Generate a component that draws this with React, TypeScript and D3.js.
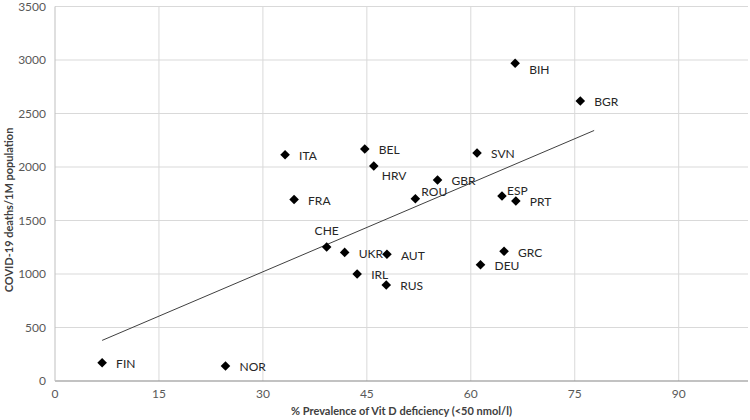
import React, { useEffect, useRef } from 'react';
import * as d3 from 'd3';

// Country codes, Vit D deficiency prevalence (%) and COVID-19 deaths per 1M
const countries = ['FIN', 'NOR', 'ITA', 'FRA', 'CHE', 'UKR', 'IRL', 'BEL', 'HRV', 'RUS', 'AUT', 'ROU', 'GBR', 'SVN', 'DEU', 'ESP', 'GRC', 'BIH', 'PRT', 'BGR'];
const vitDPrevalence = [6.8, 24.6, 33.2, 34.5, 39.2, 41.8, 43.6, 44.7, 46.0, 47.8, 47.9, 52.0, 55.2, 60.9, 61.4, 64.5, 64.8, 66.4, 66.5, 75.8];
const deathsPerMillion = [171, 140, 2115, 1697, 1252, 1202, 1000, 2168, 2009, 897, 1184, 1704, 1879, 2131, 1087, 1729, 1212, 2969, 1682, 2617];

const xTicks = [0, 15, 30, 45, 60, 75, 90];
const yTicks = [0, 500, 1000, 1500, 2000, 2500, 3000, 3500];

// label placement tweaks (px), default is to the right of the marker
const labelNudge: Record<string, { dx: number; dy: number; anchor?: string }> = {
  CHE: { dx: 0, dy: -16, anchor: 'middle' },
  ROU: { dx: 6, dy: -7 },
  ESP: { dx: 5, dy: -5 },
  HRV: { dx: 8, dy: 10 },
  BIH: { dx: 14, dy: 6 },
};

const App: React.FC = () => {
  const svgRef = useRef<SVGSVGElement>(null);

  useEffect(() => {
    if (!svgRef.current) return;
    document.body.style.margin = '0';

    const svg = d3.select(svgRef.current);
    svg.selectAll('*').remove();

    const width = 750;
    const height = 420;
    const m = { top: 6.5, right: 2, bottom: 39, left: 55 };

    const x = d3.scaleLinear().domain([0, 100]).range([m.left, width - m.right]);
    const y = d3.scaleLinear().domain([0, 3500]).range([height - m.bottom, m.top]);

    const font = 'Lato, "Open Sans", sans-serif';

    // gridlines
    svg.append('g')
      .selectAll('line')
      .data(yTicks.slice(1))
      .join('line')
      .attr('x1', m.left).attr('x2', width - m.right)
      .attr('y1', d => y(d)).attr('y2', d => y(d))
      .attr('stroke', '#d9d9d9').attr('stroke-width', 1);

    svg.append('g')
      .selectAll('line')
      .data(xTicks.slice(1))
      .join('line')
      .attr('x1', d => x(d)).attr('x2', d => x(d))
      .attr('y1', m.top).attr('y2', height - m.bottom)
      .attr('stroke', '#d9d9d9').attr('stroke-width', 1);

    // axis lines
    svg.append('line')
      .attr('x1', m.left).attr('x2', width - m.right)
      .attr('y1', y(0)).attr('y2', y(0))
      .attr('stroke', '#868686').attr('stroke-width', 1.2);
    svg.append('line')
      .attr('x1', m.left).attr('x2', m.left)
      .attr('y1', m.top).attr('y2', y(0))
      .attr('stroke', '#bfbfbf').attr('stroke-width', 1);

    // tick labels
    svg.append('g')
      .selectAll('text')
      .data(yTicks)
      .join('text')
      .attr('x', m.left - 9)
      .attr('y', d => y(d))
      .attr('dy', '0.35em')
      .attr('text-anchor', 'end')
      .attr('font-family', font)
      .attr('font-size', 12)
      .attr('fill', '#595959')
      .text(d => d);

    svg.append('g')
      .selectAll('text')
      .data(xTicks)
      .join('text')
      .attr('x', d => x(d))
      .attr('y', y(0) + 17)
      .attr('text-anchor', 'middle')
      .attr('font-family', font)
      .attr('font-size', 12)
      .attr('fill', '#595959')
      .text(d => d);

    // axis titles
    svg.append('text')
      .attr('x', (m.left + width - m.right) / 2)
      .attr('y', 415)
      .attr('text-anchor', 'middle')
      .attr('font-family', font)
      .attr('font-size', 11)
      .attr('font-weight', 'bold')
      .attr('fill', '#404040')
      .text('% Prevalence of Vit D deficiency (<50 nmol/l)');

    svg.append('text')
      .attr('transform', 'translate(13,210) rotate(-90)')
      .attr('text-anchor', 'middle')
      .attr('font-family', font)
      .attr('font-size', 11)
      .attr('font-weight', 'bold')
      .attr('fill', '#404040')
      .text('COVID-19 deaths/1M population');

    // least squares trend line
    const mx = d3.mean(vitDPrevalence)!;
    const my = d3.mean(deathsPerMillion)!;
    const sxy = d3.sum(vitDPrevalence, (v, i) => (v - mx) * (deathsPerMillion[i] - my));
    const sxx = d3.sum(vitDPrevalence, v => (v - mx) ** 2);
    const slope = sxy / sxx;
    const intercept = my - slope * mx;
    const [x0, x1] = d3.extent(vitDPrevalence) as [number, number];
    const trendX = [x0, x1 + 2];

    svg.append('path')
      .datum(trendX)
      .attr('d', d3.line<number>().x(d => x(d)).y(d => y(intercept + slope * d)))
      .attr('fill', 'none')
      .attr('stroke', '#404040')
      .attr('stroke-width', 1);

    // markers
    const diamond = d3.symbol().type(d3.symbolSquare).size(46);
    const pts = svg.append('g')
      .selectAll('g')
      .data(countries)
      .join('g')
      .attr('transform', (_, i) => `translate(${x(vitDPrevalence[i])},${y(deathsPerMillion[i])})`);

    pts.append('path')
      .attr('d', diamond()!)
      .attr('transform', 'rotate(45)')
      .attr('fill', '#000');

    pts.append('text')
      .attr('x', d => labelNudge[d]?.dx ?? 14)
      .attr('y', d => labelNudge[d]?.dy ?? 1)
      .attr('dy', '0.35em')
      .attr('text-anchor', d => labelNudge[d]?.anchor ?? 'start')
      .attr('font-family', font)
      .attr('font-size', 12)
      .attr('fill', '#262626')
      .text(d => d);
  }, []);

  return <svg ref={svgRef} width={750} height={420} style={{ display: 'block' }} />;
};

export default App;
